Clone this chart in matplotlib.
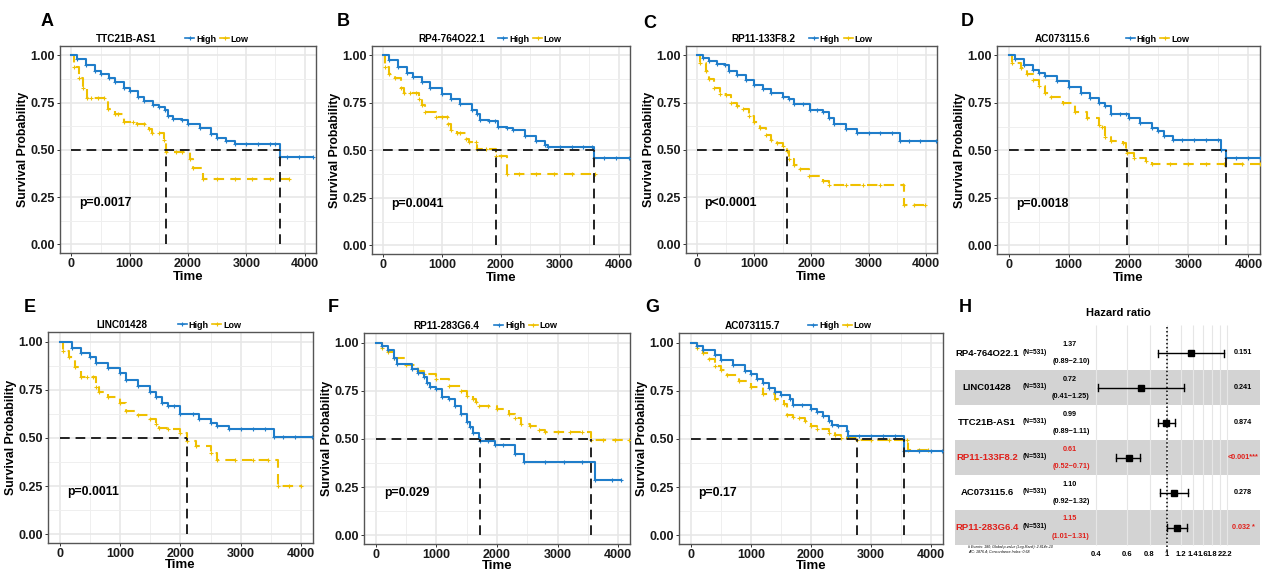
import numpy as np
import matplotlib.pyplot as plt
from matplotlib.lines import Line2D

plt.rcParams['font.family'] = ['Liberation Sans', 'DejaVu Sans']
plt.rcParams['font.weight'] = 'bold'
plt.rcParams['axes.labelweight'] = 'bold'

BLUE = '#1F7DCA'
GOLD = '#EFC000'
W, H = 1263, 571

# ---------------- KM curves (time, survival; repeated values = censored) ----------------
A_high_t = [0, 100, 250, 400, 500, 650, 750, 900, 1000, 1150, 1250, 1400, 1500, 1600, 1650, 1750, 1900, 2000, 2200, 2400, 2500, 2650, 2800, 3000, 3200, 3400, 3500, 3570, 3700, 3900, 4150]
A_high_s = [1.0, 0.98, 0.95, 0.92, 0.90, 0.88, 0.86, 0.83, 0.81, 0.78, 0.76, 0.74, 0.725, 0.71, 0.68, 0.665, 0.66, 0.635, 0.615, 0.585, 0.565, 0.545, 0.53, 0.53, 0.53, 0.53, 0.53, 0.465, 0.465, 0.465, 0.465]
A_low_t = [0, 40, 130, 200, 260, 330, 450, 560, 620, 740, 800, 900, 1050, 1130, 1250, 1330, 1390, 1500, 1580, 1630, 1800, 1900, 2030, 2090, 2250, 2500, 2800, 3100, 3400, 3730]
A_low_s = [1.0, 0.94, 0.88, 0.83, 0.775, 0.775, 0.775, 0.775, 0.715, 0.69, 0.69, 0.65, 0.65, 0.635, 0.635, 0.61, 0.59, 0.59, 0.555, 0.49, 0.49, 0.49, 0.45, 0.405, 0.347, 0.347, 0.347, 0.347, 0.347, 0.347]

B_high_t = [0, 100, 250, 400, 500, 650, 800, 1000, 1150, 1300, 1500, 1600, 1650, 1800, 1900, 1950, 2100, 2200, 2400, 2600, 2750, 2800, 3000, 3200, 3400, 3550, 3580, 3750, 3950, 4180]
B_high_s = [1.0, 0.975, 0.94, 0.91, 0.885, 0.86, 0.83, 0.795, 0.77, 0.745, 0.715, 0.69, 0.66, 0.655, 0.653, 0.626, 0.62, 0.61, 0.575, 0.55, 0.53, 0.52, 0.52, 0.52, 0.52, 0.52, 0.462, 0.462, 0.462, 0.462]
B_low_t = [0, 30, 100, 200, 300, 350, 450, 560, 600, 650, 700, 900, 1000, 1080, 1100, 1150, 1250, 1300, 1400, 1450, 1570, 1600, 1750, 1910, 2000, 2100, 2300, 2600, 2900, 3200, 3600]
B_low_s = [1.0, 0.94, 0.905, 0.88, 0.83, 0.80, 0.80, 0.80, 0.77, 0.74, 0.70, 0.675, 0.675, 0.675, 0.64, 0.61, 0.59, 0.59, 0.56, 0.545, 0.545, 0.51, 0.51, 0.47, 0.47, 0.375, 0.375, 0.375, 0.375, 0.375, 0.375]

C_high_t = [0, 100, 200, 350, 490, 560, 700, 850, 1000, 1150, 1300, 1500, 1600, 1700, 1850, 1980, 2100, 2200, 2300, 2400, 2600, 2800, 3000, 3200, 3400, 3550, 3700, 3900, 4180]
C_high_s = [1.0, 0.985, 0.97, 0.955, 0.95, 0.92, 0.895, 0.87, 0.845, 0.82, 0.80, 0.78, 0.77, 0.745, 0.745, 0.71, 0.71, 0.70, 0.67, 0.64, 0.61, 0.59, 0.59, 0.59, 0.59, 0.545, 0.545, 0.545, 0.545]
C_low_t = [0, 50, 150, 200, 300, 400, 500, 600, 700, 800, 900, 1000, 1100, 1200, 1300, 1400, 1500, 1580, 1600, 1700, 1800, 1950, 2200, 2300, 2600, 2900, 3200, 3600, 3620, 3800, 3990]
C_low_s = [1.0, 0.96, 0.92, 0.875, 0.83, 0.795, 0.79, 0.75, 0.73, 0.715, 0.68, 0.65, 0.617, 0.58, 0.555, 0.535, 0.52, 0.495, 0.45, 0.42, 0.40, 0.36, 0.335, 0.315, 0.315, 0.315, 0.315, 0.315, 0.21, 0.21, 0.21]

D_high_t = [0, 100, 250, 400, 500, 600, 800, 1000, 1200, 1350, 1500, 1600, 1700, 1850, 1950, 2000, 2200, 2400, 2500, 2600, 2750, 2900, 3100, 3300, 3500, 3550, 3620, 3800, 4000, 4200]
D_high_s = [1.0, 0.98, 0.95, 0.925, 0.91, 0.89, 0.865, 0.835, 0.80, 0.775, 0.75, 0.735, 0.69, 0.69, 0.69, 0.67, 0.645, 0.62, 0.60, 0.575, 0.555, 0.555, 0.555, 0.555, 0.555, 0.505, 0.46, 0.46, 0.46, 0.46]
D_low_t = [0, 50, 200, 300, 400, 500, 600, 700, 900, 1100, 1300, 1500, 1550, 1600, 1700, 1900, 1950, 1980, 2100, 2300, 2400, 2700, 3000, 3300, 3600, 3900, 4200]
D_low_s = [1.0, 0.96, 0.935, 0.90, 0.87, 0.84, 0.80, 0.78, 0.75, 0.705, 0.67, 0.635, 0.625, 0.57, 0.55, 0.54, 0.505, 0.485, 0.46, 0.445, 0.43, 0.43, 0.43, 0.43, 0.43, 0.43, 0.43]

E_high_t = [0, 200, 350, 500, 600, 800, 1000, 1100, 1300, 1500, 1600, 1700, 1800, 1900, 2000, 2200, 2300, 2500, 2600, 2800, 3000, 3200, 3400, 3550, 3700, 3900, 4180]
E_high_s = [1.0, 0.966, 0.94, 0.92, 0.89, 0.865, 0.835, 0.80, 0.77, 0.74, 0.715, 0.68, 0.665, 0.665, 0.625, 0.625, 0.60, 0.577, 0.56, 0.545, 0.545, 0.545, 0.545, 0.504, 0.504, 0.504, 0.504]
E_low_t = [0, 50, 150, 250, 350, 450, 550, 600, 650, 800, 1000, 1100, 1300, 1500, 1600, 1650, 1800, 2000, 2100, 2250, 2500, 2600, 2900, 3200, 3450, 3620, 3800, 3990]
E_low_s = [1.0, 0.95, 0.92, 0.87, 0.815, 0.815, 0.815, 0.765, 0.74, 0.715, 0.68, 0.64, 0.62, 0.60, 0.575, 0.55, 0.545, 0.525, 0.484, 0.458, 0.42, 0.385, 0.385, 0.385, 0.385, 0.25, 0.25, 0.25]

F_high_t = [0, 100, 200, 300, 350, 600, 700, 800, 850, 900, 1000, 1100, 1200, 1300, 1400, 1500, 1550, 1600, 1700, 1720, 1850, 1960, 2100, 2300, 2450, 2800, 3100, 3400, 3610, 3900, 4050]
F_high_s = [1.0, 0.985, 0.96, 0.92, 0.89, 0.865, 0.845, 0.82, 0.79, 0.77, 0.757, 0.72, 0.705, 0.67, 0.63, 0.59, 0.56, 0.53, 0.505, 0.49, 0.49, 0.467, 0.467, 0.424, 0.378, 0.378, 0.378, 0.378, 0.285, 0.285, 0.285]
F_low_t = [0, 100, 200, 300, 500, 700, 800, 1000, 1200, 1400, 1500, 1600, 1650, 1700, 1850, 2000, 2200, 2300, 2400, 2550, 2700, 2800, 3000, 3200, 3400, 3550, 3750, 3950, 4180]
F_low_s = [1.0, 0.97, 0.95, 0.92, 0.885, 0.855, 0.835, 0.81, 0.775, 0.75, 0.725, 0.71, 0.69, 0.67, 0.67, 0.655, 0.63, 0.61, 0.58, 0.565, 0.545, 0.535, 0.535, 0.535, 0.535, 0.497, 0.497, 0.497, 0.497]

G_high_t = [0, 100, 200, 400, 500, 700, 900, 1000, 1100, 1200, 1300, 1400, 1500, 1650, 1700, 1850, 2000, 2100, 2200, 2300, 2350, 2450, 2600, 2620, 2800, 3000, 3200, 3400, 3550, 3800, 4000, 4180]
G_high_s = [1.0, 0.985, 0.96, 0.935, 0.91, 0.885, 0.855, 0.837, 0.81, 0.79, 0.765, 0.745, 0.73, 0.71, 0.675, 0.675, 0.655, 0.64, 0.62, 0.595, 0.575, 0.565, 0.54, 0.515, 0.515, 0.515, 0.515, 0.515, 0.44, 0.44, 0.44, 0.44]
G_low_t = [0, 100, 200, 300, 400, 500, 600, 800, 1000, 1200, 1400, 1550, 1600, 1700, 1800, 1900, 2000, 2100, 2300, 2400, 2500, 2760, 3000, 3300, 3600, 3620, 3800, 3950]
G_low_s = [1.0, 0.97, 0.945, 0.915, 0.88, 0.86, 0.83, 0.80, 0.768, 0.735, 0.705, 0.68, 0.625, 0.615, 0.61, 0.595, 0.565, 0.55, 0.53, 0.52, 0.505, 0.495, 0.495, 0.495, 0.495, 0.445, 0.445, 0.445]

letters = ['A', 'B', 'C', 'D', 'E', 'F', 'G']
genes = ['TTC21B-AS1', 'RP4-764O22.1', 'RP11-133F8.2', 'AC073115.6', 'LINC01428', 'RP11-283G6.4', 'AC073115.7']
pvals_km = ['p=0.0017', 'p=0.0041', 'p<0.0001', 'p=0.0018', 'p=0.0011', 'p=0.029', 'p=0.17']
curves = [
    (A_high_t, A_high_s, A_low_t, A_low_s),
    (B_high_t, B_high_s, B_low_t, B_low_s),
    (C_high_t, C_high_s, C_low_t, C_low_s),
    (D_high_t, D_high_s, D_low_t, D_low_s),
    (E_high_t, E_high_s, E_low_t, E_low_s),
    (F_high_t, F_high_s, F_low_t, F_low_s),
    (G_high_t, G_high_s, G_low_t, G_low_s),
]

# ---------------- forest plot data ----------------
hr_genes = ['RP4-764O22.1', 'LINC01428', 'TTC21B-AS1', 'RP11-133F8.2', 'AC073115.6', 'RP11-283G6.4']
hr_n = [531, 531, 531, 531, 531, 531]
hr = [1.37, 0.72, 0.99, 0.61, 1.10, 1.15]
hr_lo = [0.89, 0.41, 0.89, 0.52, 0.92, 1.01]
hr_hi = [2.10, 1.25, 1.11, 0.71, 1.32, 1.31]
hr_p = ['0.151', '0.241', '0.874', '<0.001***', '0.278', '0.032 *']
hr_ticks = [0.4, 0.6, 0.8, 1, 1.2, 1.4, 1.6, 1.8, 2, 2.2]

# ---------------- layout (pixels) ----------------
# axes boxes: left, top, right, bottom
boxes = [(60, 46, 316, 253), (372, 46, 630, 254), (686, 46, 937, 253), (997, 46, 1260, 254),
         (48, 332, 313, 543), (364, 333, 630, 544), (679, 333, 943, 544)]
letter_xy = [(47, 22), (343, 22), (650, 23), (967, 22), (30, 308), (333, 308), (652, 308)]
title_x = [0.26, 0.31, 0.31, 0.25, 0.28, 0.31, 0.28]


def px_rect(l, t, r, b):
    return [l / W, 1 - b / H, (r - l) / W, (b - t) / H]


def median_time(t, s):
    for ti, si in zip(t, s):
        if si <= 0.5:
            return ti
    return None


fig = plt.figure(figsize=(W / 100, H / 100), dpi=100)
DASH = (0, (5, 3))

for i in range(7):
    ax = fig.add_axes(px_rect(*boxes[i]))
    ht, hs, lt, ls_ = curves[i]
    ax.set_xlim(-195, 4195)
    ax.set_ylim(-0.045, 1.05)
    ax.set_xticks([0, 1000, 2000, 3000, 4000])
    ax.set_xticks([500, 1500, 2500, 3500], minor=True)
    ax.set_yticks([0, 0.25, 0.5, 0.75, 1.0])
    ax.set_yticks([0.125, 0.375, 0.625, 0.875], minor=True)
    ax.set_yticklabels(['0.00', '0.25', '0.50', '0.75', '1.00'])
    ax.grid(which='major', color='#E6E6E6', lw=1.1, zorder=0)
    ax.grid(which='minor', color='#EFEFEF', lw=0.7, zorder=0)
    ax.tick_params(which='minor', length=0)
    ax.tick_params(which='major', length=2.5, width=0.7, color='#333333', labelsize=9, pad=1.2,
                   labelcolor='#1A1A1A')
    for sp in ax.spines.values():
        sp.set_color('#555555')
        sp.set_linewidth(1.0)
    ax.set_axisbelow(True)

    for t, s, col, lsty in [(lt, ls_, GOLD, DASH), (ht, hs, BLUE, '-')]:
        ax.step(t, s, where='post', color=col, lw=1.5, ls=lsty, zorder=3)
        ax.plot(t[1:], s[1:], ls='none', marker='+', ms=3.5, mew=0.8, color=col, zorder=3)

    meds = [m for m in (median_time(ht, hs), median_time(lt, ls_)) if m is not None]
    if meds:
        ax.plot([0, max(meds)], [0.5, 0.5], color='#222222', lw=1.4, ls=DASH, zorder=4)
        for m in meds:
            ax.plot([m, m], [0, 0.5], color='#222222', lw=1.4, ls=DASH, zorder=4)

    ax.text(130, 0.22, pvals_km[i], fontsize=8.8, va='center', ha='left')
    ax.set_xlabel('Time', fontsize=9.5, labelpad=0.5 if i < 4 else -0.5)
    ax.set_ylabel('Survival Probability', fontsize=8.8, labelpad=1)

    hgt = boxes[i][3] - boxes[i][1]
    ax.text(title_x[i], 1 + 7 / hgt, genes[i], transform=ax.transAxes, ha='center', va='center', fontsize=7.2)
    handles = [Line2D([], [], color=BLUE, lw=1.2, marker='+', ms=3, mew=0.8),
               Line2D([], [], color=GOLD, lw=1.2, marker='+', ms=3, mew=0.8)]
    ax.legend(handles, ['High', 'Low'], loc='center left', bbox_to_anchor=(0.49, 1 + 7 / hgt), ncol=2,
              frameon=False, fontsize=6.5, handlelength=1.0, handletextpad=0.2, columnspacing=0.4,
              borderaxespad=0, borderpad=0)

    fig.text(letter_xy[i][0] / W, 1 - letter_xy[i][1] / H, letters[i], fontsize=13, fontweight='bold',
             ha='center', va='center')

# ---------------- panel H: forest plot ----------------
row_y = [353 + 34.9 * k for k in range(len(hr))]
row_h = 34.9

ax_t = fig.add_axes(px_rect(940, 290, 1263, 571))
ax_t.set_xlim(940, 1263)
ax_t.set_ylim(571, 290)
ax_t.axis('off')
for k, y in enumerate(row_y):
    if k % 2 == 1:
        ax_t.fill_between([955, 1260], y - row_h / 2, y + row_h / 2, color='#D3D3D3', lw=0, zorder=0)
    red = '*' in hr_p[k]
    col = '#E0201B' if red else 'black'
    ax_t.text(987, y, hr_genes[k], ha='center', va='center', fontsize=6.8, color=col)
    ax_t.text(1035, y - 1, '(N=%d)' % hr_n[k], ha='center', va='center', fontsize=4.8, color='black')
    ax_t.text(1070, y - 8.5, '%.2f' % hr[k], ha='center', va='center', fontsize=5.2, color=col)
    ax_t.text(1071, y + 8.5, '(%.2f\u2212%.2f)' % (hr_lo[k], hr_hi[k]), ha='center', va='center',
              fontsize=5.2, color=col)
    ax_t.text(1243, y, hr_p[k], ha='center', va='center', fontsize=5.2, color=col)
ax_t.text(965, 308, 'H', ha='center', va='center', fontsize=13)
ax_t.text(1118, 313, 'Hazard ratio', ha='center', va='center', fontsize=8)
ax_t.text(968, 547, '# Events: 180; Global p-value (Log-Rank): 2.814e-10', ha='left', va='center',
          fontsize=2.6, style='italic', fontweight='normal')
ax_t.text(968, 552, 'AIC: 1876.4; Concordance Index: 0.68', ha='left', va='center',
          fontsize=2.6, style='italic', fontweight='normal')

# hazard ratio axis: 1 sits at x=1166.7 px, 77 px per log unit
hx0, hx1 = 1085, 1240
ax_h = fig.add_axes(px_rect(hx0, 300, hx1, 548))
ax_h.set_xscale('log')
ax_h.set_xlim(np.exp((hx0 - 1166.7) / 77), np.exp((hx1 - 1166.7) / 77))
ax_h.set_ylim(548, 300)
ax_h.patch.set_alpha(0)
for sp in ax_h.spines.values():
    sp.set_visible(False)
ax_h.set_yticks([])
ax_h.set_xticks(hr_ticks)
ax_h.set_xticks([], minor=True)
ax_h.set_xticklabels(['%g' % v for v in hr_ticks])
ax_h.tick_params(axis='x', length=0, labelsize=5.5, pad=2)
ax_h.vlines(hr_ticks, 325, 545, color='#E6E6E6', lw=0.8, zorder=1)
ax_h.vlines(1, 327, 553, color='black', lw=1.1, ls=(0, (1, 1.6)), zorder=2, clip_on=False)
for k, y in enumerate(row_y):
    ax_h.plot([hr_lo[k], hr_hi[k]], [y, y], color='black', lw=1.0, zorder=3)
    ax_h.plot([hr_lo[k], hr_lo[k]], [y - 3.5, y + 3.5], color='black', lw=1.0, zorder=3)
    ax_h.plot([hr_hi[k], hr_hi[k]], [y - 3.5, y + 3.5], color='black', lw=1.0, zorder=3)
    ax_h.plot(hr[k], y, marker='s', ms=4.5, color='black', zorder=4)

fig.savefig('out.png', dpi=100)
